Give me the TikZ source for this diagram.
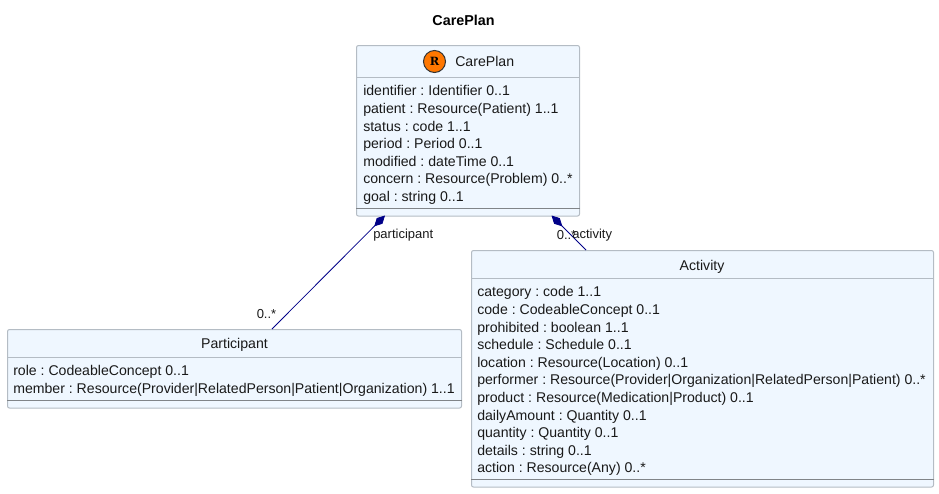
\documentclass[tikz,border=0pt]{standalone}
\usepackage{fontspec}
\setmainfont{Liberation Sans}
\newfontfamily\iconfont{DejaVu Serif}
\usetikzlibrary{arrows.meta}
\definecolor{boxfill}{HTML}{EFF7FF}
\definecolor{boxline}{HTML}{B4BCC4}
\definecolor{sepline}{HTML}{808488}
\definecolor{assoc}{HTML}{000088}
\definecolor{iconorange}{HTML}{FF7700}
\tikzset{
  x=0.75pt,y=-0.75pt,
  classbox/.style={draw=boxline,fill=boxfill,line width=0.75pt,rounded corners=1.5pt,inner sep=0pt,anchor=north west},
  headtext/.style={font=\fontsize{10.6}{13}\selectfont,inner sep=0pt,text=black!90},
  bodytext/.style={font=\fontsize{10.58}{13.2}\selectfont\frenchspacing,align=left,anchor=north west,inner sep=0pt,text=black!90},
  reltext/.style={font=\fontsize{9.75}{12}\selectfont,inner sep=0pt,anchor=base west,text=black!90},
  headrule/.style={draw=boxline,line width=0.75pt},
  seprule/.style={draw=sepline,line width=0.75pt},
  compo/.style={draw=assoc,line width=0.6pt,{Diamond[length=11.5pt,width=6pt,fill=assoc]}-},
}
\begin{document}
\begin{tikzpicture}
\useasboundingbox (0,0) rectangle (939,493);
\node[font=\fontsize{10.75}{13}\selectfont\bfseries,inner sep=0pt] (title) at (463.5,20) {CarePlan};

% CarePlan
\node[classbox,minimum width=167.25pt,minimum height=127.9pt] (cp) at (356,45) {};
\draw[headrule] (cp.north west |- 0,77.5) -- (cp.north east |- 0,77.5);
\draw[seprule] (cp.north west |- 0,208) -- (cp.north east |- 0,208);
\node[circle,draw=black!80,fill=iconorange,line width=0.75pt,minimum size=16.5pt,inner sep=0pt,font=\iconfont\fontsize{8.5}{9}\selectfont\bfseries] (cpicon) at (434.5,61.5) {R};
\node[headtext,anchor=base west] (cpname) at (455,66.5) {CarePlan};
\node[bodytext] (cpbody) at (363,85.5) {identifier : Identifier 0..1\\patient : Resource(Patient) 1..1\\status : code 1..1\\period : Period 0..1\\modified : dateTime 0..1\\concern : Resource(Problem) 0..*\\goal : string 0..1};

% Participant
\node[classbox,minimum width=340.5pt,minimum height=58.9pt] (pa) at (7,329) {};
\draw[headrule] (pa.north west |- 0,357.5) -- (pa.north east |- 0,357.5);
\draw[seprule] (pa.north west |- 0,400) -- (pa.north east |- 0,400);
\node[headtext,anchor=base] (paname) at (234.5,348.5) {Participant};
\node[bodytext] (pabody) at (13,365.5) {role : CodeableConcept 0..1\\member : Resource(Provider|RelatedPerson|Patient|Organization) 1..1};

% Activity
\node[classbox,minimum width=346.5pt,minimum height=177.4pt] (ac) at (471,250) {};
\draw[headrule] (ac.north west |- 0,278.5) -- (ac.north east |- 0,278.5);
\draw[seprule] (ac.north west |- 0,479) -- (ac.north east |- 0,479);
\node[headtext,anchor=base] (acname) at (702,270) {Activity};
\node[bodytext] (acbody) at (477,286.5) {category : code 1..1\\code : CodeableConcept 0..1\\prohibited : boolean 1..1\\schedule : Schedule 0..1\\location : Resource(Location) 0..1\\performer : Resource(Provider|Organization|RelatedPerson|Patient) 0..*\\product : Resource(Medication|Product) 0..1\\dailyAmount : Quantity 0..1\\quantity : Quantity 0..1\\details : string 0..1\\action : Resource(Any) 0..*};

% Connectors
\coordinate (cpA) at (385,215.5);
\coordinate (paA) at (272,329);
\coordinate (cpB) at (551.5,215.5);
\coordinate (acB) at (586,250);
\draw[compo] (cpA) -- (paA);
\draw[compo] (cpB) -- (acB);
\node[reltext] (l1) at (373,238.5) {participant};
\node[reltext] (l2) at (256.5,318.5) {0..*};
\node[reltext] (l3) at (556.5,239.5) {0..*};
\node[reltext] (l4) at (572,238.5) {activity};
\end{tikzpicture}
\end{document}
